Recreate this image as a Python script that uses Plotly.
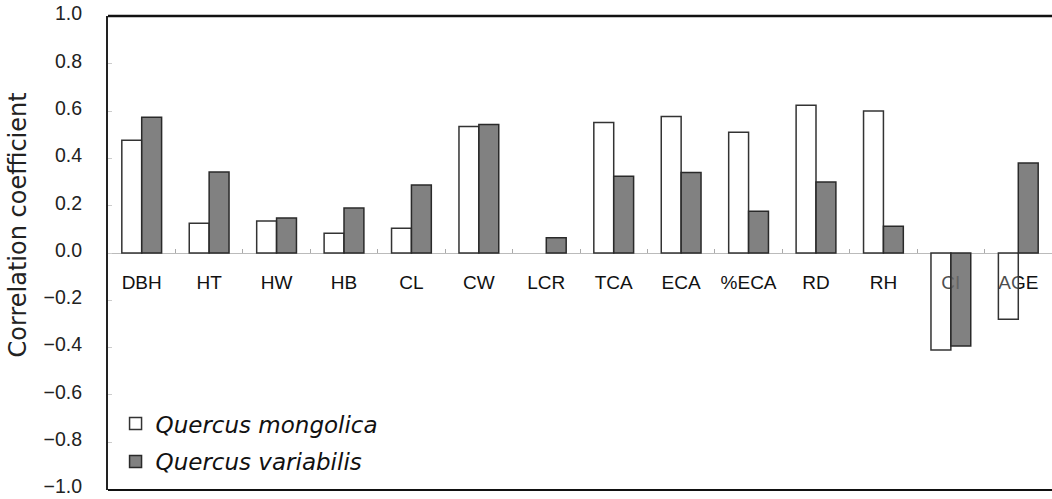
import plotly.graph_objects as go

categories = ["DBH", "HT", "HW", "HB", "CL", "CW", "LCR", "TCA", "ECA", "%ECA", "RD", "RH", "CI", "AGE"]
mongolica = [0.477, 0.126, 0.135, 0.084, 0.105, 0.535, None, 0.552, 0.577, 0.51, 0.625, 0.60, -0.41, -0.28]
variabilis = [0.574, 0.342, 0.148, 0.19, 0.287, 0.543, 0.064, 0.325, 0.34, 0.177, 0.30, 0.113, -0.393, 0.38]
y_ticks = [1.0, 0.8, 0.6, 0.4, 0.2, 0.0, -0.2, -0.4, -0.6, -0.8, -1.0]
y_tick_text = [("\u2212" if v < 0 else "") + f"{abs(v):.1f}" for v in y_ticks]
y_title = "Correlation coefficient"

ARIAL = "Liberation Sans, Arial, sans-serif"
WIDE = "DejaVu Sans, sans-serif"

fig = go.Figure()
fig.add_trace(go.Bar(
    x=categories, y=mongolica, name="Quercus mongolica",
    marker=dict(color="rgba(255,255,255,0.25)", line=dict(color="#333333", width=1.5)),
    legendgroup="a",
))
fig.add_trace(go.Bar(
    x=categories, y=variabilis, name="Quercus variabilis",
    marker=dict(color="rgba(112,112,112,0.88)", line=dict(color="#2a2a2a", width=1.5)),
    legendgroup="b",
))

fig.update_layout(
    width=1052, height=499,
    margin=dict(l=108, r=0, t=16, b=9, autoexpand=False),
    paper_bgcolor="white", plot_bgcolor="white",
    barmode="group", bargap=0.41, bargroupgap=0,
    font=dict(family=ARIAL, size=18, color="#222222"),
    legend=dict(
        x=0.008, y=0.10, xanchor="left", yanchor="middle",
        font=dict(family=WIDE, size=23, color="#111111", style="italic"),
        tracegroupgap=5, bgcolor="rgba(0,0,0,0)",
    ),
    showlegend=True,
)
fig.update_xaxes(
    range=[-0.5, 13.5], anchor="free", position=0.5,
    showline=True, linecolor="#bbbbbb", linewidth=1,
    ticks="inside", tickson="boundaries", ticklen=4, tickcolor="#aaaaaa",
    ticklabelstandoff=12,
    showgrid=False, zeroline=False,
    tickfont=dict(family=ARIAL, size=19, color="#111111"),
    layer="below traces",
)
fig.update_yaxes(
    range=[-1.002, 1.002], tickvals=y_ticks, ticktext=y_tick_text,
    showline=True, linecolor="#222222", linewidth=2,
    ticks="inside", ticklen=4, tickcolor="#cccccc",
    ticklabelstandoff=20, ticklabelshift=-3, ticklabeloverflow="allow", automargin=False,
    showgrid=False, zeroline=False,
    tickfont=dict(family=ARIAL, size=19.5, color="#222222"),
)
fig.add_annotation(
    text=y_title, textangle=-90, xref="paper", yref="paper",
    x=-0.0955, y=0.56, xanchor="center", yanchor="middle", showarrow=False,
    font=dict(family=WIDE, size=24, color="#222222"),
)
# top and bottom frame lines
fig.add_shape(type="line", xref="paper", yref="paper", x0=0, x1=1, y0=1, y1=1,
              line=dict(color="#111111", width=2.5))
fig.add_shape(type="line", xref="paper", yref="paper", x0=0, x1=1, y0=0, y1=0,
              line=dict(color="#111111", width=2))

fig.write_html("out.html", config={"displayModeBar": False},
               post_script="document.body.style.margin='0';")
